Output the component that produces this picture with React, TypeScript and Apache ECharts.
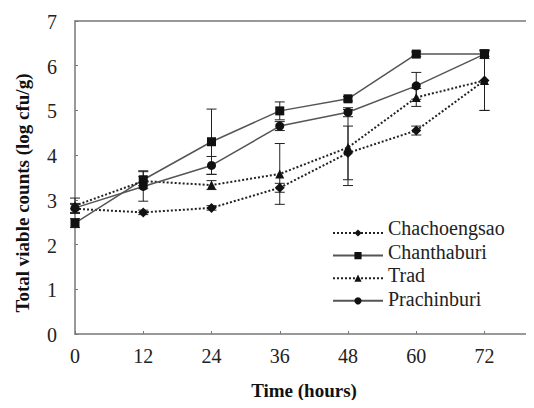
import React, { useEffect, useRef } from "react";
import * as echarts from "echarts";

const hours = [0, 12, 24, 36, 48, 60, 72];
const yTicks = [0, 1, 2, 3, 4, 5, 6, 7];

const chachoengsao = [2.8, 2.72, 2.82, 3.27, 4.05, 4.55, 5.67];
const chanthaburi = [2.48, 3.45, 4.3, 4.99, 5.26, 6.26, 6.26];
const trad = [2.87, 3.42, 3.33, 3.58, 4.17, 5.29, 5.67];
const prachinburi = [2.82, 3.3, 3.77, 4.65, 4.96, 5.55, 6.26];

const chachoengsaoSd = [0.1, 0.05, 0.05, 0.1, 0.6, 0.1, 0.67];
const chanthaburiSd = [0.1, 0.2, 0.73, 0.2, 0.05, 0.05, 0.05];
const tradSd = [0.17, 0.1, 0.1, 0.68, 0.85, 0.2, 0.67];
const prachinburiSd = [0.1, 0.33, 0.2, 0.1, 0.1, 0.3, 0.1];

const names = ["Chachoengsao", "Chanthaburi", "Trad", "Prachinburi"];

const FONT = "Liberation Serif";

function errorSeries(name: string, values: number[], sd: number[]) {
  return {
    type: "custom",
    name: name + " SD",
    silent: true,
    z: 1,
    encode: { x: 0, y: [1, 2] },
    data: hours.map((h, i) => [h, values[i] - sd[i], values[i] + sd[i]]),
    renderItem: (_params: any, api: any) => {
      const x = api.value(0);
      const lo = api.coord([x, api.value(1)]);
      const hi = api.coord([x, api.value(2)]);
      const hw = 5;
      const style = { stroke: "#222", lineWidth: 1 };
      return {
        type: "group",
        children: [
          { type: "line", shape: { x1: lo[0], y1: lo[1], x2: hi[0], y2: hi[1] }, style },
          { type: "line", shape: { x1: hi[0] - hw, y1: hi[1], x2: hi[0] + hw, y2: hi[1] }, style },
          { type: "line", shape: { x1: lo[0] - hw, y1: lo[1], x2: lo[0] + hw, y2: lo[1] }, style },
        ],
      };
    },
  };
}

function lineSeries(name: string, values: number[], symbol: string, dotted: boolean, size: number) {
  return {
    type: "line",
    name,
    z: 3,
    data: hours.map((h, i) => [h, values[i]]),
    symbol,
    symbolSize: size,
    showAllSymbol: true,
    itemStyle: { color: "#111", borderWidth: 0 },
    lineStyle: dotted
      ? { color: "#222", width: 2, type: "dotted" }
      : { color: "#555", width: 1.5, type: "solid" },
  };
}

const textStyleOf = (text: string, extra: any = {}) => ({
  text,
  fontFamily: FONT,
  fontSize: 20,
  fontWeight: 400,
  fill: "#222",
  verticalAlign: "middle",
  ...extra,
});

export default function App() {
  const ref = useRef<HTMLDivElement>(null);
  useEffect(() => {
    if (!ref.current) return;
    const chart = echarts.init(ref.current, null, { renderer: "svg" });
    const axisLine = { show: true, lineStyle: { color: "#777", width: 1.5 } };
    const legendTop = 223.5;
    const legendStep = 23.5;
    chart.setOption({
      animation: false,
      backgroundColor: "#fff",
      grid: { left: 75, right: 4, top: 21, bottom: 74 },
      legend: {
        data: names,
        orient: "vertical",
        left: 327,
        top: legendTop,
        itemWidth: 50,
        itemHeight: 9,
        itemGap: legendStep - 9,
        formatter: () => "",
        textStyle: { fontSize: 1 },
      },
      xAxis: [
        {
          type: "value",
          min: 0,
          max: 80,
          interval: 12,
          position: "bottom",
          axisLine,
          splitLine: { show: false },
          axisTick: { show: true, inside: true, length: 3, customValues: hours, lineStyle: { color: "#777" } },
          axisLabel: { show: false },
        },
        {
          type: "value",
          min: 0,
          max: 80,
          position: "top",
          axisLine,
          splitLine: { show: false },
          axisTick: { show: false },
          axisLabel: { show: false },
        },
      ],
      yAxis: {
        type: "value",
        min: 0,
        max: 7,
        interval: 1,
        axisLine,
        splitLine: { show: false },
        axisTick: { show: true, inside: true, length: 3, lineStyle: { color: "#777" } },
        axisLabel: { show: false },
      },
      series: [
        errorSeries("Chachoengsao", chachoengsao, chachoengsaoSd),
        errorSeries("Chanthaburi", chanthaburi, chanthaburiSd),
        errorSeries("Trad", trad, tradSd),
        errorSeries("Prachinburi", prachinburi, prachinburiSd),
        lineSeries("Chachoengsao", chachoengsao, "diamond", true, 10),
        lineSeries("Chanthaburi", chanthaburi, "rect", false, 9),
        lineSeries("Trad", trad, "triangle", true, 9),
        lineSeries("Prachinburi", prachinburi, "circle", false, 9),
      ],
    });

    const graphics: any[] = [];
    hours.forEach((h) => {
      const p = chart.convertToPixel({ gridIndex: 0 }, [h, 0]) as number[];
      graphics.push({ type: "text", x: p[0], y: p[1] + 22, style: textStyleOf(String(h), { align: "center" }) });
    });
    yTicks.forEach((v) => {
      const p = chart.convertToPixel({ gridIndex: 0 }, [0, v]) as number[];
      graphics.push({ type: "text", x: p[0] - 18, y: p[1] + 1, style: textStyleOf(String(v), { align: "right" }) });
    });
    names.forEach((n, i) => {
      graphics.push({
        type: "text",
        x: 388,
        y: legendTop + 4.5 + i * legendStep,
        style: textStyleOf(n, { align: "left" }),
      });
    });
    graphics.push({
      type: "text",
      x: 304,
      y: 390,
      style: textStyleOf("Time (hours)", { align: "center", fontSize: 19, fontWeight: "bold", fill: "#111" }),
    });
    graphics.push({
      type: "text",
      x: 22,
      y: 193,
      rotation: Math.PI / 2,
      style: textStyleOf("Total viable counts (log cfu/g)", {
        align: "center",
        fontSize: 19,
        fontWeight: "bold",
        fill: "#111",
      }),
    });
    chart.setOption({ graphic: graphics });
    return () => chart.dispose();
  }, []);
  return <div ref={ref} style={{ width: 534, height: 408, margin: -8 }} />;
}
